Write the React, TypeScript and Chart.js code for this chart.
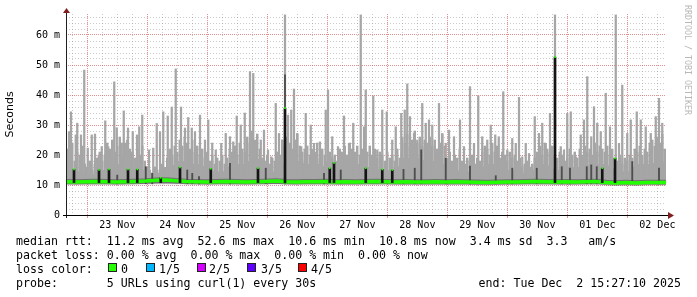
import React, { useEffect, useRef } from 'react';
import { Chart, registerables } from 'chart.js';

Chart.register(...registerables);

// ---- time frame: graph ends Tue Dec 2 15:27:10 2025, spans 10 days ----
const START_HOUR = 15 + 27 / 60 + 10 / 3600; // hours after Nov 22 00:00
const SPAN_HOURS = 240;
const DAY_LABELS = ['22 Nov', '23 Nov', '24 Nov', '25 Nov', '26 Nov', '27 Nov', '28 Nov', '29 Nov', '30 Nov', '01 Dec', '02 Dec'];
const Y_MAX = 67; // ms
const Y_LABELS: Record<number, string> = { 0: '0', 10: '10 m', 20: '20 m', 30: '30 m', 40: '40 m', 50: '50 m', 60: '60 m' };

// ---- smoke (ms) ----
const SMOKE_FLOOR = 10.4;
const BODY_STEP = 3; // hours between body samples
const smokeBody = [
  15.5, 15.5, 14, 13.5, 13.5, 15, 17, 17, 18, 16, 16, 13, 13, 16, 16, 18, 18, 17, 17, 15,
  14.5, 14.5, 17, 17, 17, 20, 18, 14.5, 14.5, 17, 18, 18, 17, 17, 17, 15, 15, 17, 17, 17,
  16, 16, 15, 15, 15, 19, 19, 19, 18, 18, 18, 15, 15, 14.5, 14.5, 14.5, 17, 17, 15, 15,
  15, 14, 14, 17, 17, 15.5, 15, 16, 16, 16, 17, 17, 17, 15.5, 14.5, 14.5, 17, 17, 17, 18,
  17,
];

// hourly smoke columns (ms), one row per 24 h after start
const COL_STEP = 1;
const smokeColumns = [
  22, 19, 24, 18, 21, 20, 23, 17, 16, 18, 15, 17, 19, 21, 18, 20, 24, 22, 25, 21, 23, 26, 20, 24,
  25, 22, 21, 19, 22, 20, 23, 18, 16, 15, 14, 16, 15, 14, 17, 15, 19, 22, 20, 23, 21, 25, 23, 26,
  24, 22, 25, 21, 23, 20, 22, 19, 21, 18, 20, 17, 19, 18, 20, 17, 19, 22, 21, 23, 20, 24, 22, 21,
  26, 24, 28, 25, 27, 22, 19, 18, 20, 17, 19, 18, 21, 20, 25, 23, 26, 24, 22, 25, 27, 23, 21, 22,
  23, 20, 22, 21, 24, 19, 22, 20, 18, 21, 19, 20, 18, 22, 21, 23, 20, 24, 22, 21, 23, 20, 22, 24,
  21, 23, 20, 22, 19, 21, 20, 18, 21, 19, 20, 18, 22, 19, 26, 24, 27, 23, 25, 28, 24, 26, 23, 25,
  24, 26, 23, 25, 22, 24, 27, 23, 19, 21, 18, 20, 19, 22, 18, 17, 19, 18, 20, 17, 19, 18, 21, 23,
  22, 20, 24, 21, 23, 19, 21, 20, 18, 21, 19, 20, 18, 19, 16, 17, 18, 16, 17, 19, 21, 23, 20, 24,
  22, 21, 23, 20, 19, 21, 20, 18, 19, 22, 20, 21, 19, 22, 20, 23, 21, 22, 20, 24, 21, 23, 22, 21,
  23, 20, 22, 19, 18, 20, 17, 19, 18, 20, 19, 22, 21, 23, 20, 22, 21, 24, 25, 23, 26, 24, 27, 22,
];

// [hour after start, top of smoke in ms]
const smokeSpikes: [number, number][] = [
  [1.2, 27.8], [2, 34.4], [3.9, 26.7], [4.5, 30.6], [6, 26.7], [7.3, 48.3], [8.7, 22.3], [10.3, 26.7],
  [11.6, 27], [13.1, 20], [14.3, 22.8], [15.7, 31.4], [16.9, 22.8], [19.3, 44.4], [20.3, 29.1], [22.3, 24],
  [23.1, 34.7], [24.8, 29], [26.7, 27.8], [28.4, 26.7], [29.3, 29.4], [30.5, 33.3], [33.2, 21.7], [34.9, 22.3],
  [36.3, 30.5], [37.6, 27.8], [38.9, 34.4], [40.7, 33], [42.3, 36], [43.9, 48.7], [46, 36], [47.6, 29],
  [48.9, 32.5], [50.3, 29], [51.6, 27.8], [53.6, 33.3], [55.6, 25], [56.9, 31.7], [58.5, 24],
  [59.9, 21.7], [62.1, 23.9], [63.9, 27.2], [65.6, 26.1], [66.9, 24.4], [68.3, 33], [69.9, 30], [71.5, 34],
  [73.6, 47.8], [74.9, 47.2], [75.9, 23.9], [77.9, 25], [79.2, 28.3], [80.8, 21.7], [82.1, 19.4], [83.9, 37.2],
  [85.2, 27.2], [86.5, 25], [87.6, 66.7], [88.8, 33.3], [90.1, 35], [91.2, 42], [92.5, 27.2], [94.1, 22.8],
  [95.9, 33.9], [97.9, 30], [99.2, 23.9], [101.6, 24.4], [103.9, 35], [104.8, 41.7], [106.5, 26.1], [108.8, 22.8],
  [111.2, 33], [113.2, 23.9], [114.9, 30.6], [117.9, 66.7], [119.2, 29.4],
  [119.9, 41.7], [122.9, 39.7], [124.5, 21.7], [126.5, 35], [128.3, 34.4], [130.5, 25], [131.9, 29.4], [134.1, 33.9],
  [135.5, 35], [136.5, 43.7], [137.6, 32.8], [139.2, 27.2], [140.5, 25], [142.5, 37.2], [143.9, 30.6], [145.2, 31.7],
  [146.5, 30], [149.2, 37.2], [150.5, 27.2], [151.9, 23.9], [153.2, 28.3], [155.2, 26.1], [157.6, 31.7], [159.2, 22.8],
  [161.6, 42.8], [163.2, 23.9], [164.9, 39.7], [166.5, 26.1], [168.5, 25], [169.9, 30], [171.7, 26.7], [173.1, 26.1],
  [174.9, 41.1], [176.5, 21.7], [178.5, 25.5],
  [179.9, 23.9], [181.2, 39.2], [182.5, 19.4], [183.9, 23.9], [185.2, 20.5], [187.5, 32.8], [189.2, 27.2], [190.5, 30.6],
  [191.9, 23.9], [193.6, 33.9], [195.6, 66.7], [197.9, 22.8], [199.2, 21.7], [200.5, 33.9], [201.9, 34.4], [203.9, 19.4],
  [205.9, 26.7], [207.2, 31.7], [208.5, 46.1], [210.1, 26.1], [211.2, 36.1], [212.5, 30.6], [213.9, 27.8], [215.9, 40.6],
  [217.6, 29.4], [219.9, 66.7], [221.2, 23.9], [222.5, 43.3], [224.5, 27.2], [225.9, 31.7], [228.3, 34.4], [229.9, 31.7],
  [231.9, 29.4], [233.9, 27.2], [235.9, 32.8], [237.2, 38.9], [238.5, 30.6], [239.5, 21.7],
];

// darker smoke strands near the median [hour, top ms]
const darkSmoke: [number, number][] = [
  [20.5, 13.3], [31.9, 16.1], [34.5, 13.9], [48.5, 15], [50.5, 13.9], [53.2, 12.8],
  [65.6, 17.2], [79.9, 15.6], [87.6, 46.7], [103.2, 13.9], [109.9, 15],
  [135, 15.2], [139.5, 15.6], [142.1, 21.7], [151.9, 18.9], [161.6, 16.3], [171.9, 13.1], [178.5, 15.6],
  [188.3, 15.6], [198.3, 16.1], [201.6, 15.6], [208.3, 16.1], [210.1, 16.7], [212.3, 16.1], [226.5, 17.8], [237.2, 15.6],
];

// ---- median rtt (ms) ----
const MEDIAN_BASE = 10.8;
const MEDIAN_STEP = 4; // hours between samples
const medianRtt = [
  11.1, 11.0, 11.1, 11.2, 11.1, 11.0, 11.1, 11.2, 11.3, 11.6, 11.7, 11.4, 11.2, 11.1, 11.0, 11.1,
  11.2, 11.1, 11.0, 11.1, 11.2, 11.3, 11.1, 11.0, 11.1, 11.1, 11.2, 11.0, 11.1, 11.0, 11.1, 11.2,
  11.1, 11.0, 11.1, 11.0, 11.0, 11.1, 11.0, 11.1, 11.0, 10.9, 10.8, 10.9, 11.0, 11.0, 11.1, 11.2,
  11.1, 11.0, 11.1, 11.0, 11.1, 11.2, 10.8, 10.7, 10.8, 10.7, 10.8, 10.8, 10.8,
];
// median excursions [hour, ms]
const medianSpikes: [number, number][] = [
  [3.2, 15.2], [13.2, 15], [17.2, 15.2], [24.8, 15.2], [28.5, 15.2], [37.9, 12.4], [45.6, 15.9], [57.9, 15.4],
  [76.8, 15.6], [87.6, 35.6], [105.5, 15.6], [107.2, 17.4], [119.9, 15.6], [126.5, 15.2], [130.5, 15],
  [195.6, 52.6], [214.5, 15.6], [219.6, 18.9],
];

// ---- legend ----
const rttLine = 'median rtt:  11.2 ms avg  52.6 ms max  10.6 ms min  10.8 ms now  3.4 ms sd  3.3   am/s';
const lossLine = 'packet loss: 0.00 % avg  0.00 % max  0.00 % min  0.00 % now';
const lossLabels = ['0', '1/5', '2/5', '3/5', '4/5'];
const lossColors = ['#26ff00', '#00b8ff', '#d400ff', '#5e00ff', '#ff0000'];
const probeLine = 'probe:       5 URLs using curl(1) every 30s';
const endLine = 'end: Tue Dec  2 15:27:10 2025';
const tagText = 'RRDTOOL / TOBI OETIKER';

const GRID_MINOR = 'rgba(130,130,130,0.42)';
const GRID_MAJOR = 'rgba(205,55,55,0.55)';
const SMOKE = '#a6a6a6';
const MONO = "'DejaVu Sans Mono', monospace";

const axisPlugin = {
  id: 'rrdAxes',
  afterDraw(chart: any) {
    const { ctx, chartArea } = chart;
    const { left, right, top, bottom } = chartArea;
    const ax = Math.round(left) + 0.5;
    const ay = Math.round(bottom) + 0.5;
    ctx.save();
    ctx.lineWidth = 1;
    ctx.strokeStyle = '#1f1f1f';
    ctx.beginPath();
    ctx.moveTo(ax, top - 1);
    ctx.lineTo(ax, bottom + 3);
    ctx.stroke();
    ctx.strokeStyle = '#000';
    ctx.beginPath();
    ctx.moveTo(left - 3, ay);
    ctx.lineTo(right + 3, ay);
    ctx.stroke();
    ctx.fillStyle = '#801f1f';
    ctx.beginPath();
    ctx.moveTo(ax - 3.5, top - 1);
    ctx.lineTo(ax + 3.5, top - 1);
    ctx.lineTo(ax, top - 6);
    ctx.closePath();
    ctx.fill();
    ctx.beginPath();
    ctx.moveTo(right + 2, ay - 3.5);
    ctx.lineTo(right + 2, ay + 3.5);
    ctx.lineTo(right + 8, ay);
    ctx.closePath();
    ctx.fill();
    ctx.restore();
  },
};

const floatBars = (pairs: [number, number][], lo: number) => pairs.map(([h, v]) => ({ x: h, y: [lo, v] }));

export default function App() {
  const canvasRef = useRef<HTMLCanvasElement | null>(null);

  useEffect(() => {
    document.body.style.margin = '0';
    const canvas = canvasRef.current;
    if (!canvas) return;

    const hourOf = (v: number) => Math.round(v + START_HOUR);
    const isMajorX = (c: any) => c.tick && hourOf(c.tick.value) % 24 === 0;
    const isMajorY = (c: any) => c.tick && c.tick.value % 10 === 0;

    const chart = new Chart(canvas, {
      type: 'line',
      data: {
        datasets: [
          {
            type: 'line',
            data: medianSpikes.map(([h, v]) => ({ x: h, y: v })),
            showLine: false,
            pointStyle: 'rect',
            pointRadius: 1.2,
            pointBackgroundColor: '#22ff00',
            pointBorderWidth: 0,
            order: 0,
          } as any,
          {
            type: 'bar',
            data: floatBars(medianSpikes, MEDIAN_BASE),
            backgroundColor: '#141414',
            barThickness: 2,
            grouped: false,
            borderWidth: 0,
            order: 1,
          } as any,
          {
            type: 'line',
            data: medianRtt.map((v, i) => ({ x: i * MEDIAN_STEP, y: v })),
            borderColor: '#22ff00',
            borderWidth: 3.5,
            pointRadius: 0,
            tension: 0,
            fill: false,
            order: 2,
          } as any,
          {
            type: 'line',
            data: medianRtt.map((v, i) => ({ x: i * MEDIAN_STEP, y: v })),
            borderColor: 'rgba(70,70,70,0.55)',
            borderWidth: 5.5,
            pointRadius: 0,
            tension: 0,
            fill: false,
            order: 3,
          } as any,
          {
            type: 'bar',
            data: floatBars(darkSmoke, SMOKE_FLOOR),
            backgroundColor: '#4e4e4e',
            barThickness: 1.2,
            grouped: false,
            borderWidth: 0,
            order: 4,
          } as any,
          {
            type: 'bar',
            data: floatBars(smokeSpikes, SMOKE_FLOOR),
            backgroundColor: SMOKE,
            barThickness: 1.6,
            grouped: false,
            borderWidth: 0,
            order: 5,
          } as any,
          {
            type: 'bar',
            data: smokeColumns.map((v, i) => ({ x: i * COL_STEP + 0.5, y: [SMOKE_FLOOR, v] })),
            backgroundColor: SMOKE,
            barThickness: 1.8,
            grouped: false,
            borderWidth: 0,
            order: 6,
          } as any,
          {
            type: 'line',
            data: smokeBody.map((v, i) => ({ x: i * BODY_STEP, y: v })),
            borderWidth: 0,
            borderColor: 'rgba(0,0,0,0)',
            backgroundColor: SMOKE,
            pointRadius: 0,
            tension: 0,
            fill: { value: SMOKE_FLOOR },
            order: 7,
          } as any,
        ],
      },
      options: {
        responsive: false,
        animation: false,
        events: [],
        layout: { padding: { left: 0, top: 14, right: 31, bottom: 0 } },
        plugins: { legend: { display: false }, tooltip: { enabled: false } },
        scales: {
          x: {
            type: 'linear',
            min: 0,
            max: SPAN_HOURS,
            offset: false,
            z: 1,
            afterFit: (s: any) => { s.height = 82; },
            afterBuildTicks: (s: any) => {
              const t: { value: number }[] = [];
              for (let H = Math.ceil(START_HOUR / 6) * 6; H - START_HOUR <= SPAN_HOURS; H += 6) t.push({ value: H - START_HOUR });
              s.ticks = t;
            },
            grid: {
              offset: false,
              color: (c: any) => (isMajorX(c) ? GRID_MAJOR : GRID_MINOR),
              tickColor: (c: any) => (isMajorX(c) ? GRID_MAJOR : 'rgba(0,0,0,0)'),
              tickLength: 3,
              lineWidth: 1,
            },
            border: { display: false, dash: (c: any) => (isMajorX(c) ? [1, 1] : [1, 2]) },
            ticks: {
              autoSkip: false,
              maxRotation: 0,
              minRotation: 0,
              padding: 1,
              color: '#000',
              font: { family: 'DejaVu Sans Mono', size: 10 },
              callback: (v: any) => {
                const H = hourOf(Number(v));
                return H % 24 === 12 ? DAY_LABELS[Math.floor(H / 24)] : '';
              },
            },
          },
          y: {
            type: 'linear',
            min: 0,
            max: Y_MAX,
            z: 1,
            afterFit: (s: any) => { s.width = 66; },
            afterBuildTicks: (s: any) => {
              const t: { value: number }[] = [];
              for (let v = 0; v < Y_MAX; v += 2) t.push({ value: v });
              s.ticks = t;
            },
            grid: {
              color: (c: any) => (isMajorY(c) ? GRID_MAJOR : GRID_MINOR),
              drawTicks: false,
              lineWidth: 1,
            },
            border: { display: false, dash: (c: any) => (isMajorY(c) ? [1, 1] : [1, 2]) },
            title: {
              display: true,
              text: 'Seconds',
              color: '#000',
              font: { family: 'DejaVu Sans', size: 11 },
              padding: { top: 4, bottom: 0 },
            },
            ticks: {
              autoSkip: false,
              padding: 6,
              color: '#000',
              font: { family: 'DejaVu Sans Mono', size: 10 },
              callback: (v: any) => Y_LABELS[Number(v)] ?? '',
            },
          },
        },
      },
      plugins: [axisPlugin],
    } as any);

    return () => chart.destroy();
  }, []);

  const lineBase: React.CSSProperties = {
    position: 'absolute',
    left: 16,
    font: `11.6px ${MONO}`,
    lineHeight: '14px',
    whiteSpace: 'pre',
    color: '#000',
  };
  const boxLefts = [108, 146, 197, 247, 298];
  const labelLefts = [121, 159, 209, 261, 311];

  return (
    <div style={{ position: 'relative', width: 697, height: 297, overflow: 'hidden', background: '#fff' }}>
      <canvas ref={canvasRef} width={697} height={297} style={{ position: 'absolute', left: 0, top: 0, width: 697, height: 297 }} />
      <div style={{ ...lineBase, top: 234 }}>{rttLine}</div>
      <div style={{ ...lineBase, top: 248 }}>{lossLine}</div>
      <div style={{ ...lineBase, top: 262 }}>loss color:</div>
      {lossLabels.map((lab, i) => (
        <React.Fragment key={lab}>
          <div
            style={{
              position: 'absolute',
              left: boxLefts[i],
              top: 263,
              width: 7,
              height: 7,
              background: lossColors[i],
              border: '1px solid #222',
            }}
          />
          <div style={{ ...lineBase, left: labelLefts[i], top: 262 }}>{lab}</div>
        </React.Fragment>
      ))}
      <div style={{ ...lineBase, top: 276 }}>{probeLine}</div>
      <div style={{ ...lineBase, left: 'auto', right: 16, top: 276 }}>{endLine}</div>
      <div
        style={{
          position: 'absolute',
          left: 683,
          top: 5,
          writingMode: 'vertical-rl',
          font: `8.3px ${MONO}`,
          lineHeight: '10px',
          color: '#b8b8b8',
          whiteSpace: 'pre',
        }}
      >
        {tagText}
      </div>
    </div>
  );
}
